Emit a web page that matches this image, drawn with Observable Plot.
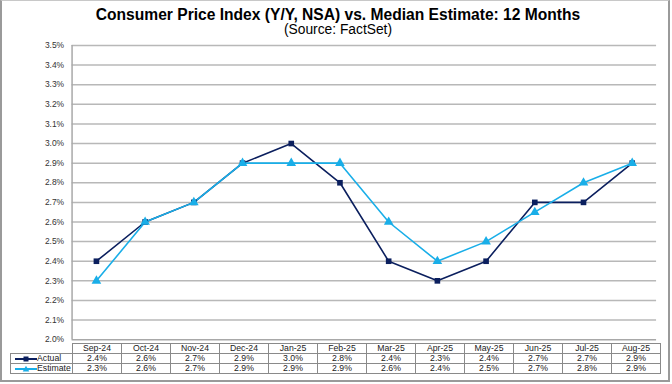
<!DOCTYPE html>
<html>
<head>
<meta charset="utf-8">
<script src="https://cdn.jsdelivr.net/npm/d3@7"></script>
<script src="https://cdn.jsdelivr.net/npm/@observablehq/plot@0.6"></script>
<style>
  html, body { margin: 0; padding: 0; background: #fff; }
  #frame { position: relative; width: 666px; height: 379px; border: 2px solid #9a9a9a; border-top: 1px solid #c8c8c8; overflow: hidden; font-family: Arial, "Liberation Sans", sans-serif; }
  #title { position: absolute; left: 0; top: 5px; width: 672px; text-align: center; font-weight: bold; font-size: 15.6px; color: #000; line-height: 17px; }
  #subtitle { position: absolute; left: 0; top: 21px; width: 672px; text-align: center; font-size: 13.8px; color: #000; line-height: 15px; }
  #chart { position: absolute; left: -2px; top: 37px; }
  #table { position: absolute; left: -2px; top: 342px; width: 672px; height: 34px; font-size: 8.7px; color: #222; }
  .cell { position: absolute; box-sizing: border-box; border: 1px solid #8a8a8a; text-align: center; line-height: 9px; height: 11px; background: #fff; }
  .lab { text-align: left; padding-left: 26px; }
  .key { position: absolute; left: 4px; top: 4px; width: 22px; height: 1.6px; }
</style>
</head>
<body>
<div id="frame">
  <div id="title">Consumer Price Index (Y/Y, NSA) vs. Median Estimate: 12 Months</div>
  <div id="subtitle">(Source: FactSet)</div>
  <div id="chart"></div>
  <div id="table"></div>
</div>
<script>
const months = ["Sep-24","Oct-24","Nov-24","Dec-24","Jan-25","Feb-25","Mar-25","Apr-25","May-25","Jun-25","Jul-25","Aug-25"];
const actual = [2.4, 2.6, 2.7, 2.9, 3.0, 2.8, 2.4, 2.3, 2.4, 2.7, 2.7, 2.9];
const estimate = [2.3, 2.6, 2.7, 2.9, 2.9, 2.9, 2.6, 2.4, 2.5, 2.65, 2.8, 2.9];
const actualLabels = ["2.4%","2.6%","2.7%","2.9%","3.0%","2.8%","2.4%","2.3%","2.4%","2.7%","2.7%","2.9%"];
const estimateLabels = ["2.3%","2.6%","2.7%","2.9%","2.9%","2.9%","2.6%","2.4%","2.5%","2.7%","2.8%","2.9%"];
const yTicks = [2.0,2.1,2.2,2.3,2.4,2.5,2.6,2.7,2.8,2.9,3.0,3.1,3.2,3.3,3.4,3.5];

const navy = "#0b1f5e";
const sky = "#19aee8";

const dataA = months.map((m, i) => ({month: m, value: actual[i]}));
const dataE = months.map((m, i) => ({month: m, value: estimate[i]}));

const chart = Plot.plot({
  width: 672,
  height: 315,
  marginTop: 7,
  marginBottom: 12,
  marginLeft: 72,
  marginRight: 12,
  style: {fontFamily: "Arial, 'Liberation Sans', sans-serif", fontSize: "8.5px", color: "#333", background: "transparent"},
  x: {type: "band", domain: months, padding: 0, axis: null},
  y: {domain: [2.0, 3.5], ticks: yTicks, tickFormat: d => d.toFixed(1) + "%", label: null, tickSize: 0, tickPadding: 8},
  marks: [
    Plot.gridY(yTicks.filter(t => t > 2.0), {stroke: "#b8b8b8", strokeOpacity: 1, strokeWidth: 1.5}),
    Plot.ruleY([2.0], {stroke: "#a8a8a8", strokeWidth: 1.5}),
    Plot.ruleX([months[0]], {x: () => months[0], dx: -24.5, y1: 2.0, y2: 3.5, stroke: "#a8a8a8", strokeWidth: 1.5}),
    Plot.axisY({ticks: yTicks, tickFormat: d => d.toFixed(1) + "%", tickSize: 0, tickPadding: 8, label: null, fill: "#333"}),
    Plot.line(dataA, {x: "month", y: "value", stroke: navy, strokeWidth: 1.6}),
    Plot.line(dataE, {x: "month", y: "value", stroke: sky, strokeWidth: 1.6}),
    Plot.dot(dataA, {x: "month", y: "value", symbol: "square", r: 3.2, fill: navy, stroke: "none"}),
    Plot.dot(dataE, {x: "month", y: "value", symbol: "triangle", r: 3.6, fill: sky, stroke: "none"})
  ]
});
document.getElementById("chart").appendChild(chart);

// Table aligned to the x band scale
const xs = chart.scale("x");
const bw = xs.bandwidth;
const tbl = document.getElementById("table");
function cell(x, y, w, text, cls) {
  const d = document.createElement("div");
  d.className = "cell" + (cls ? " " + cls : "");
  d.style.left = x + "px";
  d.style.top = y + "px";
  d.style.width = w + "px";
  d.textContent = text;
  tbl.appendChild(d);
  return d;
}
const rowTops = [0, 10, 20];
months.forEach((m, i) => {
  const left = xs.apply(m);
  cell(left, rowTops[0], bw + 1, m);
  cell(left, rowTops[1], bw + 1, actualLabels[i]);
  cell(left, rowTops[2], bw + 1, estimateLabels[i]);
});
const firstLeft = xs.apply(months[0]);
const la = cell(10, rowTops[1], firstLeft - 10 + 1, "Actual", "lab");
const le = cell(10, rowTops[2], firstLeft - 10 + 1, "Estimate", "lab");
function key(el, color, shape) {
  const k = document.createElement("div");
  k.className = "key";
  k.style.background = color;
  el.appendChild(k);
  const m = document.createElementNS("http://www.w3.org/2000/svg", "svg");
  m.setAttribute("width", 8); m.setAttribute("height", 8);
  m.style.position = "absolute"; m.style.left = "11px"; m.style.top = "1px";
  if (shape === "square") {
    m.innerHTML = `<rect x="1.5" y="1.5" width="5" height="5" fill="${color}"/>`;
  } else {
    m.innerHTML = `<path d="M4,0.8 L7.3,6.5 L0.7,6.5 Z" fill="${color}"/>`;
  }
  el.appendChild(m);
}
key(la, navy, "square");
key(le, sky, "triangle");
</script>
</body>
</html>
